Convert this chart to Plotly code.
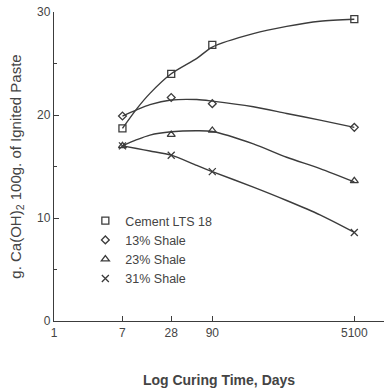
import plotly.graph_objects as go

days = [7, 28, 90, 5100]
series_names = ["Cement LTS 18", "13% Shale", "23% Shale", "31% Shale"]
# measured points (markers)
cement = [18.7, 24.0, 26.8, 29.3]
shale13 = [19.9, 21.7, 21.1, 18.8]
shale23 = [17.0, 18.1, 18.5, 13.6]
shale31 = [17.0, 16.1, 14.5, 8.6]

# smooth fitted curves, values at these ages
fit_days = [7, 10.5, 15.3, 28, 58, 90, 289, 745, 1923, 5100]
cement_fit = [18.7, 20.6, 22.1, 24.0, 25.5, 26.6, 27.9, 28.6, 29.1, 29.3]
shale13_fit = [19.9, 20.5, 21.0, 21.45, 21.5, 21.35, 20.8, 20.15, 19.5, 18.8]
shale23_fit = [17.0, 17.6, 18.05, 18.37, 18.47, 18.4, 17.2, 15.9, 14.8, 13.5]
shale31_fit = [17.0, 16.75, 16.5, 16.1, 15.1, 14.5, 13.0, 11.7, 10.3, 8.6]

x_tick_vals = [1, 7, 28, 90, 5100]
x_tick_text = ["1", "7", "28", "90", "5100"]
y_tick_vals = [0, 10, 20, 30]
y_minor_vals = [5, 15, 25]

ink = "#3c3c3c"
symbols = ["square-open", "diamond-open", "triangle-up-open", "x-thin-open"]
sizes = [7, 6, 7, 7]
points = [cement, shale13, shale23, shale31]
fits = [cement_fit, shale13_fit, shale23_fit, shale31_fit]

fig = go.Figure()
for name, ys, fy, sym, sz in zip(series_names, points, fits, symbols, sizes):
    fig.add_trace(go.Scatter(x=fit_days, y=fy, mode="lines",
                             line=dict(color=ink, width=1.4, shape="spline", smoothing=0.8),
                             showlegend=False, hoverinfo="skip"))
    fig.add_trace(go.Scatter(x=days, y=ys, mode="markers", name=name,
                             marker=dict(symbol=sym, size=sz, color=ink, line=dict(color=ink, width=1.3))))

fig.update_layout(
    width=384, height=389,
    margin=dict(l=54, r=0, t=12, b=68),
    paper_bgcolor="white", plot_bgcolor="white",
    font=dict(family="Liberation Sans, Arial, sans-serif", size=12, color="#444"),
    showlegend=True,
    legend=dict(x=0.095, y=0.372, xanchor="left", yanchor="top", bgcolor="rgba(0,0,0,0)",
                font=dict(size=12.5, color="#444"), tracegroupgap=0),
    xaxis=dict(type="log", range=[0, 4.074], tickvals=x_tick_vals, ticktext=x_tick_text,
               ticks="inside", ticklen=5, tickcolor=ink, showline=True, linecolor=ink, linewidth=1.3,
               showgrid=False, zeroline=False,
               title=dict(text="<b>Log Curing Time, Days</b>", font=dict(size=14, color="#444"), standoff=36)),
    yaxis=dict(range=[0, 30], tickvals=y_tick_vals, ticks="inside", ticklen=5, tickcolor=ink,
               minor=dict(tickvals=y_minor_vals, ticks="inside", ticklen=3, tickcolor=ink),
               showline=True, linecolor=ink, linewidth=1.3, showgrid=False, zeroline=False,
               title=dict(text="g. Ca(OH)<sub>2</sub> 100g. of Ignited Paste", font=dict(size=15, color="#444"), standoff=11)),
)

fig.write_html("out.html")
